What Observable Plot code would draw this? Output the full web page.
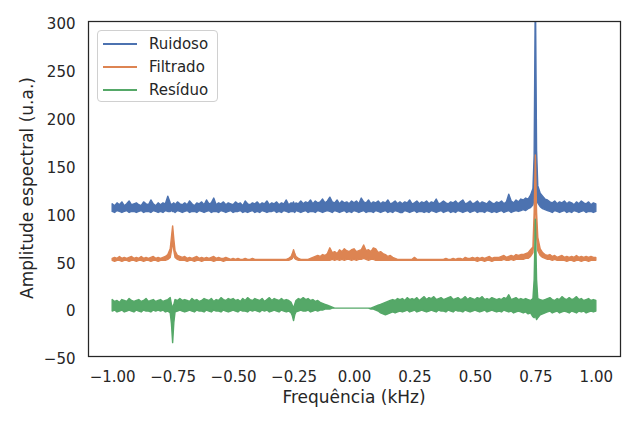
<!DOCTYPE html>
<html>
<head>
<meta charset="utf-8">
<script src="https://cdn.jsdelivr.net/npm/d3@7"></script>
<script src="https://cdn.jsdelivr.net/npm/@observablehq/plot@0.6"></script>
<style>
  html, body { margin: 0; padding: 0; background: white; }
  #wrap { position: relative; width: 639px; height: 426px; font-family: "DejaVu Sans", sans-serif; color: #262626; }
  .lab { position: absolute; font-size: 17px; white-space: nowrap; }
  #legend { position: absolute; left: 97px; top: 30px; width: 121px; height: 72px; border: 1px solid #d0d0d0; border-radius: 4px; background: rgba(255,255,255,0.85); box-sizing: border-box; }
  .row { position: absolute; left: 0; height: 20px; font-size: 15px; }
  .sw { position: absolute; left: 5px; width: 34px; height: 2px; top: 9px; }
  .tx { position: absolute; left: 51px; top: 0; line-height: 20px; }
</style>
</head>
<body>
<div id="wrap"></div>
<script>
// Frequência (kHz)
const freq = [
-1.00,-0.99,-0.98,-0.97,-0.96,-0.95,-0.94,-0.93,-0.92,-0.91,
-0.90,-0.89,-0.88,-0.87,-0.86,-0.85,-0.84,-0.83,-0.82,-0.81,
-0.80,-0.79,-0.78,-0.77,-0.76,-0.755,-0.75,-0.745,-0.74,-0.73,-0.72,-0.71,
-0.70,-0.69,-0.68,-0.67,-0.66,-0.65,-0.64,-0.63,-0.62,-0.61,
-0.60,-0.59,-0.58,-0.57,-0.56,-0.55,-0.54,-0.53,-0.52,-0.51,
-0.50,-0.49,-0.48,-0.47,-0.46,-0.45,-0.44,-0.43,-0.42,-0.41,
-0.40,-0.39,-0.38,-0.37,-0.36,-0.35,-0.34,-0.33,-0.32,-0.31,
-0.30,-0.29,-0.28,-0.27,-0.26,-0.255,-0.25,-0.245,-0.24,-0.23,-0.22,-0.21,
-0.20,-0.19,-0.18,-0.17,-0.16,-0.15,-0.14,-0.13,-0.12,-0.11,
-0.10,-0.09,-0.08,-0.07,-0.06,-0.05,-0.04,-0.03,-0.02,-0.01,
0.00,0.01,0.02,0.03,0.04,0.05,0.06,0.07,0.08,0.09,
0.10,0.11,0.12,0.13,0.14,0.15,0.16,0.17,0.18,0.19,
0.20,0.21,0.22,0.23,0.24,0.25,0.26,0.27,0.28,0.29,
0.30,0.31,0.32,0.33,0.34,0.35,0.36,0.37,0.38,0.39,
0.40,0.41,0.42,0.43,0.44,0.45,0.46,0.47,0.48,0.49,
0.50,0.51,0.52,0.53,0.54,0.55,0.56,0.57,0.58,0.59,
0.60,0.61,0.62,0.63,0.64,0.65,0.66,0.67,0.68,0.69,
0.70,0.71,0.72,0.73,0.74,0.745,0.75,0.755,0.76,0.77,0.78,0.79,
0.80,0.81,0.82,0.83,0.84,0.85,0.86,0.87,0.88,0.89,
0.90,0.91,0.92,0.93,0.94,0.95,0.96,0.97,0.98,0.99,
1.00
];
// Ruidoso: upper / lower envelope of the noisy trace
const ruidosoHi = [
109,107,110,108,111,107,109,112,108,109,
110,108,107,111,109,108,113,109,107,110,
108,110,109,117,110,108,109,110,108,111,109,108,
110,108,112,109,107,110,109,111,108,113,
109,110,115,108,110,109,111,108,110,109,
108,111,109,110,107,112,109,108,110,109,
111,108,110,109,112,108,110,109,111,108,
110,109,113,108,110,109,111,108,110,109,112,109,
111,110,113,109,112,110,111,114,110,112,
116,111,110,113,109,112,110,111,109,112,
110,112,109,115,111,110,113,109,111,110,
112,109,111,110,113,109,110,112,109,111,
109,111,110,113,109,110,112,109,111,110,
112,109,111,110,114,109,110,112,110,109,
111,110,112,109,111,113,109,110,112,109,
110,112,109,111,110,109,112,110,109,111,
110,112,109,111,119,112,110,113,111,114,
113,115,114,118,125,160,340,165,128,120,117,114,
113,111,110,112,109,111,110,112,109,111,
110,108,111,109,112,110,109,111,108,110,
109
];
const ruidosoLo = [
101,100,102,101,100,101,102,100,101,101,
100,101,102,100,101,101,100,102,101,100,
101,100,102,101,101,102,101,101,100,102,101,100,
101,102,100,101,101,100,102,101,100,101,
102,100,101,101,100,102,101,100,101,102,
100,101,101,102,100,101,100,101,102,100,
101,100,102,101,100,101,101,102,100,101,
100,102,101,100,101,101,101,100,102,101,100,101,
102,100,101,101,100,102,101,100,101,102,
101,100,102,101,100,101,102,100,101,100,
102,101,100,101,102,100,101,101,100,102,
101,100,101,102,100,101,100,102,101,100,
100,102,101,100,101,102,100,101,101,100,
101,100,102,101,100,101,102,100,101,102,
100,101,100,102,101,100,101,102,100,101,
102,100,101,101,100,102,101,100,101,100,
101,102,100,101,102,100,101,102,101,102,
103,102,104,105,108,115,140,118,110,106,104,103,
102,101,100,102,101,100,101,102,100,101,
100,102,101,100,101,102,100,101,101,100,
101
];
// Filtrado
const filtradoHi = [
52,53,52,54,52,53,52,53,54,52,
53,52,54,52,53,52,53,54,52,53,
52,53,54,56,62,74,86,72,60,55,54,53,
54,52,53,52,53,54,52,53,52,53,
52,53,54,52,53,52,52,53,52,51,
52,51,52,51,51,52,51,51,52,51,
51,51,51,51,51,51,51,51,51,51,
51,51,51,52,54,57,61,57,54,52,51,51,
51,51,52,53,54,55,54,56,55,57,
63,58,59,57,61,59,62,60,59,61,
62,59,60,61,66,60,61,59,63,62,
58,59,57,56,54,55,53,52,51,51,
51,51,51,51,51,53,51,51,51,51,
51,51,51,51,51,51,51,51,52,51,
51,52,51,52,52,51,53,52,52,53,
52,53,52,53,52,53,54,52,53,53,
53,54,55,53,54,55,54,56,55,56,
56,57,58,61,64,100,160,100,74,62,58,56,
55,56,54,55,53,54,55,53,54,53,
54,53,55,53,54,53,54,53,54,53,
53
];
const filtradoLo = [
50,49,50,50,49,50,50,49,50,50,
49,50,50,49,50,50,49,50,50,49,
50,50,50,51,53,60,70,60,53,51,50,50,
50,49,50,50,49,50,50,49,50,50,
50,50,49,50,50,50,49,50,50,50,
50,50,50,50,50,50,50,50,50,50,
50,50,50,50,50,50,50,50,50,50,
50,50,50,50,51,52,55,52,51,50,50,50,
50,50,50,50,50,50,50,50,50,50,
50,51,50,51,50,51,50,51,51,50,
51,50,51,51,52,51,50,51,51,50,
50,50,50,50,50,50,50,50,50,50,
50,50,50,50,50,50,50,50,50,50,
50,50,50,50,50,50,50,50,50,50,
50,50,50,50,50,50,50,50,50,50,
50,49,50,50,49,50,50,49,50,50,
50,50,51,50,50,51,50,51,51,51,
51,52,52,54,58,75,130,75,60,55,53,52,
51,51,50,51,50,50,50,50,49,50,
50,49,50,50,49,50,50,49,50,50,
50
];
// Resíduo
const residuoHi = [
9,7,8,6,9,8,7,10,8,7,
8,9,7,8,10,7,8,9,7,8,
9,7,8,9,11,4,0,4,9,8,10,8,
9,8,7,10,8,9,7,8,10,9,
8,10,7,9,8,11,9,8,10,9,
10,8,9,7,10,8,11,9,8,10,
9,8,10,7,9,11,8,10,9,8,
10,8,9,8,6,3,0,4,8,10,9,11,
9,10,8,9,7,8,6,5,4,3,
2,1,0,0,0,0,0,0,0,0,
0,0,0,0,0,0,0,0,1,2,
3,4,5,6,7,8,9,8,10,9,
10,8,11,9,10,9,11,8,10,12,
9,11,10,12,9,10,11,9,10,11,
12,9,10,11,9,10,12,9,11,10,
9,11,10,12,9,10,9,11,10,9,
10,9,11,10,14,9,10,11,9,10,
9,10,9,8,10,30,93,30,10,9,8,9,
10,11,9,8,10,9,12,10,9,11,
9,10,12,9,10,8,9,10,8,9,
8
];
const residuoLo = [
-3,-2,-4,-3,-2,-4,-3,-2,-3,-4,
-2,-3,-4,-2,-3,-3,-4,-2,-3,-2,
-3,-2,-4,-3,-5,-16,-36,-15,-4,-3,-2,-3,
-4,-3,-2,-3,-4,-2,-3,-3,-4,-2,
-3,-4,-2,-3,-3,-4,-2,-3,-4,-3,
-2,-3,-4,-2,-3,-3,-4,-2,-3,-2,
-3,-4,-2,-3,-2,-4,-3,-2,-3,-4,
-2,-3,-4,-3,-5,-8,-13,-7,-4,-3,-2,-3,
-3,-2,-4,-3,-2,-3,-2,-2,-1,-1,
-1,0,0,0,0,0,0,0,0,0,
0,0,0,0,0,0,0,-1,-1,-2,
-3,-5,-6,-7,-6,-5,-4,-5,-4,-3,
-4,-3,-2,-4,-3,-2,-4,-3,-2,-3,
-4,-3,-2,-3,-4,-2,-3,-3,-4,-2,
-3,-4,-2,-3,-3,-4,-2,-3,-4,-3,
-2,-3,-4,-3,-2,-4,-3,-2,-3,-4,
-3,-4,-2,-3,-4,-3,-5,-4,-3,-4,
-5,-4,-6,-5,-9,-10,-8,-12,-10,-7,-6,-5,
-4,-3,-5,-4,-3,-5,-4,-3,-4,-5,
-3,-4,-5,-3,-4,-3,-5,-4,-3,-4,
-3
];
const seriesNames = ["Ruidoso", "Filtrado", "Resíduo"];
const seriesColors = ["#4C72B0", "#DD8452", "#55A868"];
const xTicks = [-1.00, -0.75, -0.50, -0.25, 0.00, 0.25, 0.50, 0.75, 1.00];
const yTicks = [-50, 0, 50, 100, 150, 200, 250, 300];
const xLabel = "Frequência (kHz)";
const yLabel = "Amplitude espectral (u.a.)";

const build = (lo, hi) => freq.map((x, i) => ({x, lo: lo[i], hi: hi[i]}));
const sets = [build(ruidosoLo, ruidosoHi), build(filtradoLo, filtradoHi), build(residuoLo, residuoHi)];

const chart = Plot.plot({
  width: 639, height: 426,
  marginLeft: 88, marginRight: 19, marginTop: 21, marginBottom: 70,
  style: {fontFamily: "DejaVu Sans, sans-serif", fontSize: "15px", color: "#262626", background: "white"},
  x: {domain: [-1.1, 1.1]},
  y: {domain: [-50, 300]},
  marks: [
    ...sets.map((d, k) => Plot.areaY(d, {x: "x", y1: "lo", y2: "hi", fill: seriesColors[k], stroke: seriesColors[k], strokeWidth: 1.4, clip: true})),
    Plot.frame({stroke: "#262626", strokeWidth: 1.25}),
    Plot.axisX(xTicks, {tickSize: 0, tickPadding: 15, tickFormat: d3.format(".2f"), label: null, fontSize: 15}),
    Plot.axisY(yTicks, {tickSize: 0, tickPadding: 13, dy: 3, label: null, fontSize: 15})
  ]
});
const wrap = document.getElementById("wrap");
wrap.appendChild(chart);

const xl = document.createElement("div");
xl.className = "lab"; xl.textContent = xLabel;
xl.style.left = "354px"; xl.style.top = "397px"; xl.style.transform = "translate(-50%,-50%)";
wrap.appendChild(xl);
const yl = document.createElement("div");
yl.className = "lab"; yl.textContent = yLabel;
yl.style.left = "27px"; yl.style.top = "188px"; yl.style.transform = "translate(-50%,-50%) rotate(-90deg)";
wrap.appendChild(yl);

const lg = document.createElement("div");
lg.id = "legend";
seriesNames.forEach((n, i) => {
  const r = document.createElement("div");
  r.className = "row"; r.style.top = (3 + i * 23) + "px"; r.style.width = "100%";
  const s = document.createElement("div"); s.className = "sw"; s.style.background = seriesColors[i];
  const t = document.createElement("div"); t.className = "tx"; t.textContent = n;
  r.appendChild(s); r.appendChild(t); lg.appendChild(r);
});
wrap.appendChild(lg);
</script>
</body>
</html>
